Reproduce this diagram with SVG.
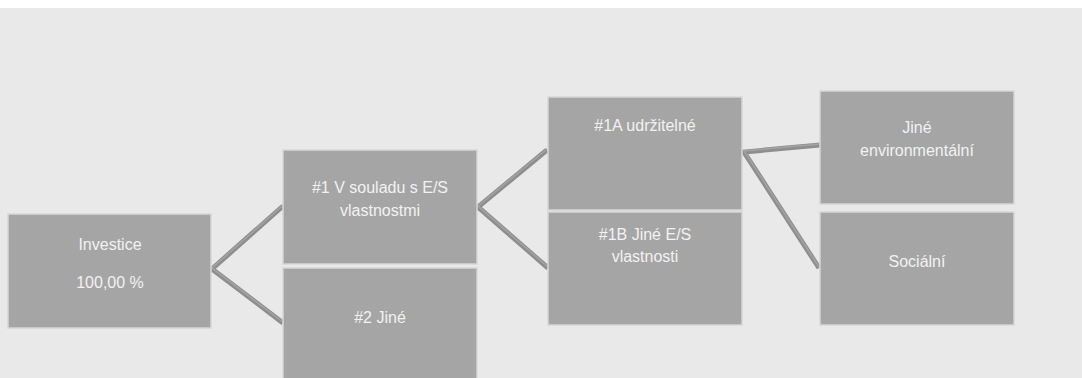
<svg xmlns="http://www.w3.org/2000/svg" width="1082" height="378" viewBox="0 0 1082 378">
<style>
.box{fill:#a5a5a5;stroke:#d6d6d6;stroke-width:1.5}
.t{font-family:"Liberation Sans",Arial,sans-serif;font-size:16px;fill:#f2f2f2;text-anchor:middle}
.c{fill:none;stroke:#8e8e8e;stroke-width:5;stroke-linecap:butt;stroke-linejoin:miter}
.ch{fill:none;stroke:#a3a3a3;stroke-width:1.5}
</style>
<rect x="0" y="0" width="1082" height="378" fill="#ffffff"/>
<rect x="0" y="8" width="1082" height="370" fill="#e9e9e9"/>
<g id="connectors">
<polyline class="c" points="283,206 212,269 283,323"/>
<polyline class="ch" points="283,205 212,268 283,322"/>
<polyline class="c" points="547,150 478,207 548,268"/>
<polyline class="ch" points="547,149 478,206 548,267"/>
<polyline class="c" points="820,145 744,152 819,268"/>
<polyline class="ch" points="820,144 744,151 819,267"/>
</g>
<g id="investice">
<rect class="box" x="8" y="214" width="203" height="114"/>
<text class="t" x="110" y="250">Investice</text>
<text class="t" x="110" y="288">100,00 %</text>
</g>
<g id="n1">
<rect class="box" x="283" y="150" width="194" height="114"/>
<text class="t" x="380" y="193">#1 V souladu s E/S</text>
<text class="t" x="380" y="216">vlastnostmi</text>
</g>
<g id="n2">
<rect class="box" x="283" y="268" width="194" height="114"/>
<text class="t" x="380" y="323">#2 Jiné</text>
</g>
<g id="n1a">
<rect class="box" x="548" y="97" width="194" height="113"/>
<text class="t" x="645" y="131">#1A udržitelné</text>
</g>
<g id="n1b">
<rect class="box" x="548" y="212" width="194" height="113"/>
<text class="t" x="645" y="240">#1B Jiné E/S</text>
<text class="t" x="645" y="262">vlastnosti</text>
</g>
<g id="jine-env">
<rect class="box" x="820" y="91" width="194" height="113"/>
<text class="t" x="917" y="133">Jiné</text>
<text class="t" x="917" y="156">environmentální</text>
</g>
<g id="socialni">
<rect class="box" x="820" y="212" width="194" height="113"/>
<text class="t" x="917" y="267">Sociální</text>
</g>
</svg>
